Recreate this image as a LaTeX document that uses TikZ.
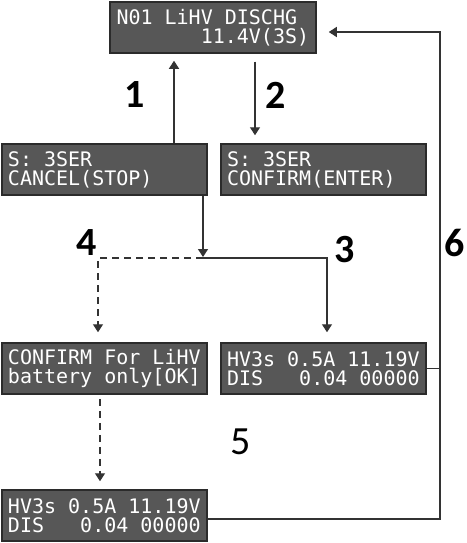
\documentclass[tikz,border=0pt]{standalone}
\usepackage{fontspec}
\setmainfont{Carlito}
\newfontfamily\lcd{DejaVu Sans Mono}
\usetikzlibrary{arrows.meta}
\definecolor{lcdbg}{HTML}{575757}
\definecolor{lcdbd}{HTML}{2B2B2B}
\definecolor{lncol}{HTML}{333333}
\newcommand\lcdsp{\spaceskip=0.602em\relax\xspaceskip=0.602em\relax}
\begin{document}
\begin{tikzpicture}[x=1pt,y=-1pt,
  lcdbox/.style={draw=lcdbd, line width=1.5pt, fill=lcdbg, text=white,
    minimum width=205pt, minimum height=51pt, text width=193pt,
    inner xsep=6pt, inner ysep=0pt, align=left,
    font=\lcd\fontsize{20}{19}\selectfont},
  num/.style={font=\fontsize{40}{40}\selectfont\bfseries, text=black, inner sep=0pt},
  arr/.style={draw=lncol, line width=1.3pt, -{Triangle[width=10pt,length=8pt]}},
  plain/.style={draw=lncol, line width=1.3pt},
  dsh/.style={dash pattern=on 7pt off 5pt}]
\useasboundingbox (0,0) rectangle (466,543);
% boxes
\node[lcdbox, minimum width=206pt] (top) at (213,27.5) {\lcdsp N01 LiHV DISCHG\\\phantom{0000000}11.4V(3S)};
\node[lcdbox] (cancel) at (104.5,169.5) {\lcdsp S: 3SER\\CANCEL(STOP)};
\node[lcdbox] (confirm) at (323.5,169.5) {\lcdsp S: 3SER\\CONFIRM(ENTER)};
\node[lcdbox] (lihv) at (104.5,368.5) {\lcdsp CONFIRM For LiHV\\battery only[OK]};
\node[lcdbox] (run1) at (323.5,368.5) {\lcdsp HV3s 0.5A 11.19V\\DIS\phantom{000}0.04 00000};
\node[lcdbox] (run2) at (104.5,515.5) {\lcdsp HV3s 0.5A 11.19V\\DIS\phantom{000}0.04 00000};
% helper coordinates
\coordinate (x1) at (174,0);
\coordinate (x2) at (255,0);
\coordinate (x3) at (203,0);
\coordinate (j) at (203,258);
\coordinate (x4) at (327,0);
\coordinate (x5) at (98,0);
\coordinate (x6) at (100,0);
\coordinate (r6) at (440,519);
\coordinate (t6) at (440,32);
% connectors
\draw[arr, shorten >=7pt] (x1 |- cancel.north) -- (x1 |- top.south);
\draw[arr, shorten <=8pt, shorten >=8pt] (x2 |- top.south) -- (x2 |- confirm.north);
\draw[arr, shorten >=1pt] (x3 |- cancel.south) -- (j);
\draw[arr, shorten >=10pt] (j) -| (x4 |- run1.north);
\draw[arr, dsh, shorten >=10pt] (j) -| (x5 |- lihv.north);
\draw[arr, dsh, shorten <=4pt, shorten >=8pt] (x6 |- lihv.south) -- (x6 |- run2.north);
\draw[plain] (run1.east) -- (run1.east -| r6);
\draw[arr, shorten >=12pt] (r6 -| run2.east) -- (r6) -- (t6) -- (t6 -| top.east);
% labels
\node[num] (n1) at (135,95) {1};
\node[num] (n2) at (276,95) {2};
\node[num] (n3) at (345,250) {3};
\node[num] (n4) at (87,243) {4};
\node[num, font=\fontsize{40}{40}\selectfont] (n5) at (241,442) {5};
\node[num] (n6) at (455,243) {6};
\end{tikzpicture}
\end{document}
